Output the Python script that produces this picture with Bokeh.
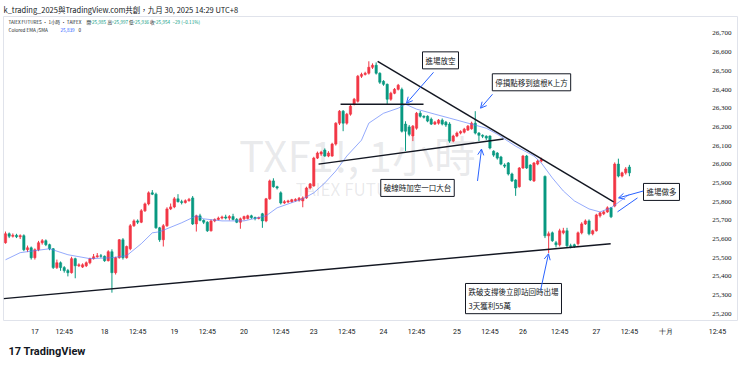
from bokeh.plotting import figure
from bokeh.models import (ColumnDataSource, FixedTicker, Label, Title,
                          Arrow, OpenHead, Range1d)
from bokeh.embed import file_html
from bokeh.resources import INLINE

# ---------------- data (hourly candles, TXF1!) ----------------
opens = [25580, 25628, 25615, 25620, 25612, 25618, 25543, 25553, 25500, 25543,
         25580, 25591, 25570, 25548, 25447, 25473, 25447, 25431, 25420, 25495,
         25457, 25450, 25457, 25473, 25495, 25505, 25510, 25508, 25484, 25532,
         25420, 25500, 25596, 25500, 25548, 25671, 25697, 25690, 25751, 25788,
         25847, 25840, 25660, 25596, 25671, 25761, 25772, 25815, 25800, 25795,
         25805, 25820, 25681, 25724, 25700, 25690, 25644, 25697, 25705, 25712,
         25718, 25712, 25720, 25705, 25690, 25708, 25710, 25724, 25715, 25710,
         25735, 25697, 25815, 25911, 25880, 25847, 25793, 25798, 25800, 25805,
         25808, 25804, 25820, 25873, 25884, 26033, 26055, 26076, 26044, 26044,
         26108, 26220, 26284, 26220, 26268, 26321, 26337, 26471, 26481, 26487,
         26519, 26530, 26487, 26444, 26428, 26348, 26380, 26401, 26400, 26215,
         26200, 26151, 26193, 26273, 26257, 26257, 26241, 26215, 26220, 26236,
         26225, 26215, 26124, 26151, 26167, 26172, 26183, 26190, 26220, 26167,
         26155, 26150, 26151, 26070, 26060, 26039, 25996, 26007, 25948, 25916,
         25880, 25980, 26044, 25996, 25911, 26001, 26017, 25935, 25617, 25633,
         25580, 25569, 25633, 25644, 25564, 25569, 25575, 25633, 25681, 25697,
         25628, 25644, 25724, 25735, 25745, 25767, 25777, 26001, 25937, 25954,
         25985]
highs = [25640, 25635, 25630, 25628, 25625, 25625, 25565, 25560, 25550, 25590,
         25600, 25598, 25575, 25552, 25490, 25480, 25455, 25440, 25505, 25500,
         25470, 25470, 25480, 25500, 25520, 25525, 25520, 25512, 25540, 25545,
         25505, 25600, 25605, 25565, 25680, 25705, 25705, 25760, 25795, 25855,
         25862, 25848, 25665, 25680, 25770, 25790, 25825, 25840, 25810, 25812,
         25820, 25830, 25730, 25735, 25705, 25695, 25705, 25710, 25720, 25725,
         25730, 25728, 25735, 25712, 25715, 25725, 25730, 25730, 25720, 25720,
         25740, 25820, 25918, 25925, 25885, 25855, 25808, 25810, 25815, 25818,
         25825, 25828, 25880, 25900, 26040, 26068, 26072, 26085, 26070, 26115,
         26225, 26290, 26290, 26275, 26318, 26355, 26478, 26490, 26495, 26551,
         26540, 26545, 26492, 26450, 26432, 26388, 26408, 26430, 26410, 26230,
         26210, 26210, 26280, 26285, 26262, 26262, 26250, 26232, 26242, 26245,
         26232, 26225, 26158, 26175, 26182, 26195, 26210, 26228, 26284, 26172,
         26160, 26155, 26155, 26075, 26065, 26045, 26005, 26012, 25955, 25920,
         25985, 26050, 26050, 26000, 26012, 26025, 26035, 25940, 25640, 25640,
         25590, 25655, 25660, 25660, 25575, 25575, 25640, 25690, 25705, 25705,
         25650, 25735, 25745, 25752, 25775, 25772, 26010, 26030, 25960, 25985,
         25997]
lows = [25575, 25605, 25608, 25605, 25600, 25535, 25530, 25490, 25490, 25535,
        25570, 25562, 25540, 25440, 25440, 25430, 25420, 25400, 25415, 25390,
        25450, 25445, 25450, 25465, 25490, 25500, 25500, 25478, 25480, 25313,
        25410, 25495, 25490, 25495, 25540, 25665, 25680, 25685, 25745, 25780,
        25835, 25655, 25585, 25560, 25665, 25755, 25765, 25795, 25785, 25790,
        25800, 25675, 25640, 25695, 25680, 25638, 25640, 25690, 25700, 25705,
        25705, 25700, 25700, 25685, 25655, 25700, 25705, 25708, 25700, 25705,
        25660, 25690, 25810, 25875, 25865, 25785, 25788, 25792, 25795, 25800,
        25800, 25770, 25815, 25865, 25880, 26028, 26045, 26040, 26038, 26040,
        26100, 26210, 26177, 26212, 26260, 26315, 26330, 26462, 26475, 26480,
        26510, 26480, 26430, 26420, 26320, 26340, 26375, 26395, 26170, 26071,
        26150, 26124, 26185, 26250, 26245, 26225, 26210, 26210, 26212, 26208,
        26200, 26115, 26118, 26145, 26160, 26165, 26178, 26185, 26160, 26124,
        26140, 26130, 26080, 26040, 26025, 25995, 25980, 25940, 25905, 25831,
        25875, 25975, 25975, 25910, 25905, 25995, 26010, 25605, 25525, 25585,
        25555, 25560, 25625, 25555, 25550, 25552, 25565, 25625, 25675, 25620,
        25620, 25640, 25715, 25728, 25740, 25712, 25770, 25930, 25930, 25945,
        25936]
closes = [25628, 25615, 25620, 25612, 25618, 25543, 25553, 25500, 25543, 25580,
          25591, 25570, 25548, 25447, 25473, 25447, 25431, 25420, 25495, 25457,
          25462, 25462, 25473, 25495, 25505, 25510, 25508, 25484, 25532, 25420,
          25500, 25596, 25500, 25560, 25671, 25697, 25690, 25751, 25788, 25847,
          25840, 25660, 25596, 25671, 25761, 25772, 25815, 25800, 25795, 25805,
          25812, 25681, 25724, 25700, 25690, 25644, 25697, 25705, 25712, 25718,
          25712, 25720, 25705, 25690, 25708, 25720, 25724, 25715, 25710, 25715,
          25697, 25815, 25911, 25880, 25873, 25793, 25800, 25804, 25810, 25812,
          25818, 25820, 25873, 25895, 26033, 26060, 26065, 26044, 26060, 26108,
          26220, 26284, 26220, 26268, 26311, 26348, 26471, 26481, 26487, 26519,
          26530, 26487, 26439, 26428, 26348, 26380, 26401, 26423, 26177, 26177,
          26160, 26204, 26273, 26257, 26252, 26231, 26215, 26225, 26236, 26215,
          26210, 26124, 26151, 26167, 26175, 26188, 26204, 26220, 26167, 26155,
          26150, 26140, 26087, 26049, 26033, 26001, 25990, 25948, 25911, 25873,
          25980, 26044, 25980, 25916, 26007, 26017, 26025, 25617, 25628, 25591,
          25569, 25644, 25644, 25564, 25560, 25560, 25633, 25681, 25697, 25628,
          25644, 25729, 25740, 25745, 25767, 25719, 26001, 25937, 25954, 25975,
          25954]

# Colored EMA / SMA read at sampled bars
ema_bar = [0, 4, 12, 17, 23, 29, 33, 37, 40, 42, 48, 52, 54, 59, 65, 71, 74, 81,
           84, 87, 90, 93, 97, 99, 103, 107, 109, 112, 117, 121, 126, 131, 134,
           139, 144, 146, 149, 152, 155, 159, 162, 165, 170]
ema_val = [25489, 25527, 25548, 25516, 25495, 25500, 25511, 25575, 25633, 25639,
           25687, 25724, 25708, 25697, 25697, 25724, 25767, 25815, 25847, 25900,
           25964, 26044, 26129, 26220, 26273, 26300, 26321, 26295, 26268, 26247,
           26220, 26193, 26161, 26097, 26044, 26007, 25927, 25857, 25804, 25761,
           25745, 25767, 25839]

# time axis ticks (bar positions) and labels
time_tick_pos = [8, 16, 27, 36, 46, 55, 65, 75, 84, 93, 103, 112, 123, 132, 141,
                 151, 161, 170, 180, 194]
time_tick_lbl = ["17", "12:45", "18", "12:45", "19", "12:45", "20", "12:45", "23",
                 "12:45", "24", "12:45", "25", "12:45", "26", "12:45", "27", "12:45",
                 "十月", "12:45"]
price_ticks = [25200, 25300, 25400, 25500, 25600, 25700, 25800, 25900, 26000,
               26100, 26200, 26300, 26400, 26500, 26600, 26700]

# drawn trend lines: (bar0, price0, bar1, price1)
trend_x0 = [-0.5, 101.4, 91.3, 85.3]
trend_y0 = [25281, 26551, 26321, 26001]
trend_x1 = [164.9, 165.7, 113.9, 135.7]
trend_y1 = [25575, 25799, 26321, 26135]

UP = "#f23645"
DN = "#089981"
BLUE = "#2962ff"
TXT = "#131722"
CJK = "Noto Sans CJK TC"

n = len(opens)
idx = list(range(n))
col = [UP if c >= o else DN for o, c in zip(opens, closes)]
src = ColumnDataSource(dict(
    i=idx, o=opens, h=highs, l=lows, c=closes, col=col,
    top=[max(o, c) for o, c in zip(opens, closes)],
    bot=[min(o, c) for o, c in zip(opens, closes)],
))


def X(px):
    return (px - 5) / 3.67


def Y(py):
    return 26870.7 - 5.3333 * py


p = figure(width=740, height=367, x_range=Range1d(X(3), X(737)),
           y_range=Range1d(Y(320), Y(15)), output_backend="svg",
           toolbar_location=None, y_axis_location=None,
           min_border_left=3, min_border_right=3, min_border_top=15,
           min_border_bottom=47, background_fill_color="white",
           border_fill_color="white", outline_line_color="#e0e3eb")
p.grid.visible = False

# header title (above)
p.add_layout(Title(text="k_trading_2025與TradingView.com共創，九月 30, 2025 14:29 UTC+8",
                   text_font=CJK, text_font_size="7.5px", text_font_style="normal",
                   text_color=TXT, align="left", standoff=3, offset=0), "above")

# watermark
p.add_layout(Label(x=X(357), y=Y(152), text="TXF1!, 1小時", text_font=CJK,
                   text_font_size="42px", text_color="#787b86", text_alpha=0.16,
                   text_align="center", text_baseline="middle", level="underlay"))
p.add_layout(Label(x=X(357), y=Y(188), text="TAIEX FUTURES", text_font=CJK,
                   text_font_size="17px", text_color="#787b86", text_alpha=0.16,
                   text_align="center", text_baseline="middle", level="underlay"))

# candles
p.segment(x0="i", y0="l", x1="i", y1="h", line_color="col", line_width=1, source=src)
p.vbar(x="i", width=0.62, top="top", bottom="bot", fill_color="col", line_color="col",
       line_width=0.6, source=src)

# EMA
p.line(ema_bar, ema_val, line_color="#5b7cfa", line_alpha=0.65, line_width=1)

# trend lines
p.segment(x0=trend_x0, y0=trend_y0, x1=trend_x1, y1=trend_y1, line_color="#131722",
          line_width=1.4)

# price scale labels (drawn inside the right strip)
p.text(x=[X(731)] * len(price_ticks), y=price_ticks,
       text=[f"{v:,}" for v in price_ticks], text_font="Roboto",
       text_font_size="7px", text_color=TXT, text_align="right", text_baseline="middle")

# time axis
xa = p.xaxis[0]
xa.ticker = FixedTicker(ticks=time_tick_pos)
xa.major_label_overrides = {k: v for k, v in zip(time_tick_pos, time_tick_lbl)}
xa.axis_line_color = None
xa.major_tick_line_color = None
xa.minor_tick_line_color = None
xa.major_tick_out = 0
xa.major_tick_in = 0
xa.major_label_standoff = 7
xa.major_label_text_font = "Roboto"
xa.major_label_text_font_size = "7px"
xa.major_label_text_color = TXT

p.add_layout(Title(text="17 TradingView", text_font="Roboto", text_font_style="bold",
                   text_font_size="11px", text_color=TXT, align="left", standoff=8,
                   offset=5), "below")

# legend texts
pieces = [("TAIEX FUTURES · 1小時 · TAIFEX", 8, TXT), ("開", 86, TXT), ("=25,985", 89, DN),
          ("高", 107, TXT), ("=25,997", 111, DN), ("低", 128.5, TXT), ("=25,936", 132, DN),
          ("收", 149.5, TXT), ("=25,954", 153, DN), ("−29 (−0.11%)", 172, DN)]
for t, px, c in pieces:
    p.add_layout(Label(x=X(px), y=Y(21), text=t, text_font=CJK,
                       text_font_size="4.6px", text_color=c, text_baseline="middle"))
for t, px, c in [("Colored EMA /SMA", 8, TXT), ("25,839", 60, BLUE), ("0", 78, TXT)]:
    p.add_layout(Label(x=X(px), y=Y(29), text=t, text_font=CJK,
                       text_font_size="4.6px", text_color=c, text_baseline="middle"))

# annotation boxes
boxes = [("進場放空", 440, 59), ("停損點移到這根K上方", 531, 81), ("破線時加空一口大台", 417, 187),
         ("進場做多", 661, 191)]
for t, px, py in boxes:
    p.add_layout(Label(x=X(px), y=Y(py), text=t, text_font=CJK,
                       text_font_size="7.5px", text_color=TXT, text_align="center",
                       text_baseline="middle", background_fill_color="white",
                       border_line_color=TXT, border_line_width=1, padding=3))
p.add_layout(Label(x=X(465), y=Y(298), text="跌破支撐後立即站回時出場\n3天獲利55萬",
                   text_font=CJK, text_font_size="7.5px", text_color=TXT,
                   text_align="left", text_baseline="middle", background_fill_color="white",
                   border_line_color=TXT, border_line_width=1, padding=3))

# arrows
arrows = [(433, 71, 406, 102), (492, 93, 480, 107), (477, 180, 481, 148),
          (540, 290, 548, 253), (643, 190, 618, 197)]
for x0, y0, x1, y1 in arrows:
    p.add_layout(Arrow(end=OpenHead(size=6, line_color=BLUE, line_width=1),
                       x_start=X(x0), y_start=Y(y0), x_end=X(x1), y_end=Y(y1),
                       line_color=BLUE, line_width=1))
p.segment(x0=[X(637)], y0=[Y(197)], x1=[X(617)], y1=[Y(211)], line_color=BLUE, line_width=1)

open("out.html", "w").write(file_html(p, INLINE))
